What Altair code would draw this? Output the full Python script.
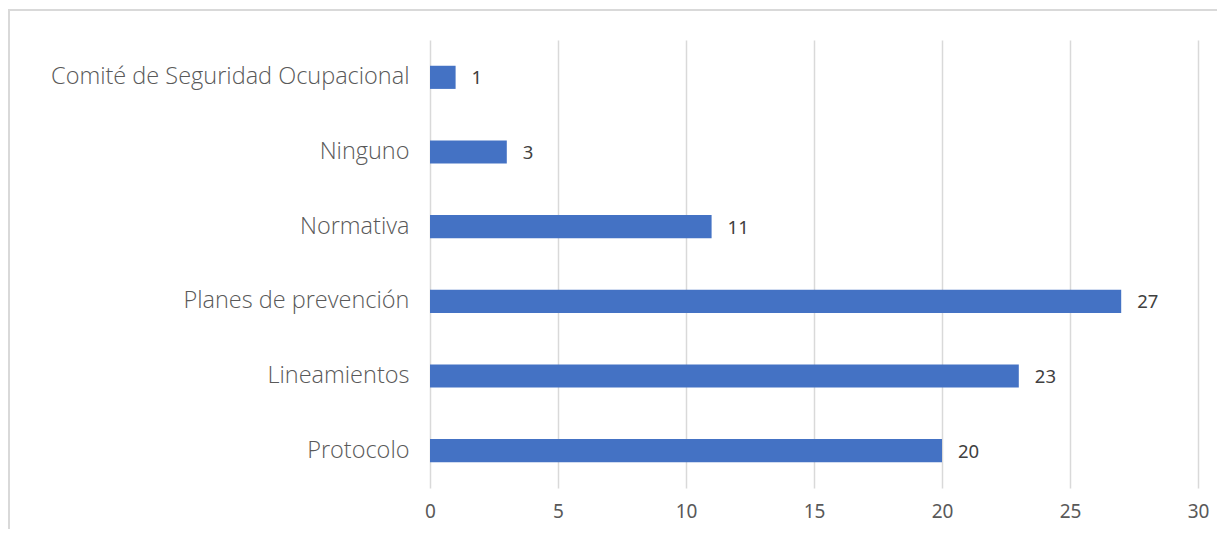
import altair as alt
import pandas as pd

categories = ["Comité de Seguridad Ocupacional", "Ninguno", "Normativa",
              "Planes de prevención", "Lineamientos", "Protocolo"]
values = [1, 3, 11, 27, 23, 20]
x_ticks = [0, 5, 10, 15, 20, 25, 30]

df = pd.DataFrame({"cat": categories, "val": values})

base = alt.Chart(df).encode(
    y=alt.Y("cat:N", sort=categories,
            scale=alt.Scale(paddingInner=0.69, paddingOuter=0.345),
            axis=alt.Axis(title=None, domain=False, ticks=False, labelPadding=21,
                          labelFont="Open Sans", labelFontWeight=300, labelFontSize=23.5,
                          labelColor="#595959", labelLimit=420)),
    x=alt.X("val:Q", scale=alt.Scale(domain=[0, 30], nice=False),
            axis=alt.Axis(title=None, values=x_ticks, domain=False, ticks=False,
                          grid=True, gridColor="#d9d9d9", gridWidth=1.5,
                          labelFlush=False,
                          labelPadding=14, labelFont="Noto Sans", labelFontSize=19,
                          labelColor="#595959")),
)

bars = base.mark_bar(color="#4472C4")
labels = base.mark_text(align="left", baseline="middle", dx=16, dy=1, font="Noto Sans",
                        fontSize=18.5, fontWeight=400, color="#404040").encode(
    text="val:Q")

frame = alt.Chart(df).mark_rect(fill=None, stroke="#d9d9d9", strokeWidth=1.5).encode(
    x=alt.value(-421), x2=alt.value(830), y=alt.value(-30), y2=alt.value(600))

chart = alt.layer(frame, bars, labels).properties(
    width=768, height=448,
    autosize=alt.AutoSizeParams(type="none"),
    padding={"left": 422, "top": 32, "right": 19, "bottom": 41},
).configure_view(stroke=None)

chart.save("out.html", embed_options={"renderer": "svg", "actions": False})
